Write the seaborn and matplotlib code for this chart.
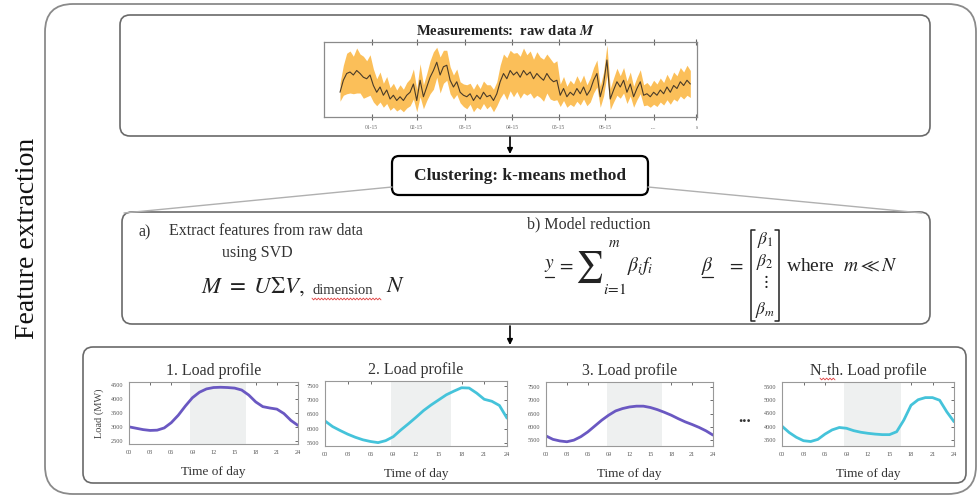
import numpy as np
import matplotlib
matplotlib.use("Agg")
import matplotlib.pyplot as plt
from matplotlib.patches import FancyBboxPatch
import seaborn as sns

# ---- data ----
hours = list(range(25))
hour_ticks = [0, 3, 6, 9, 12, 15, 18, 21, 24]
hour_labels = ["00", "03", "06", "09", "12", "15", "18", "21", "24"]
peak_window = (8.7, 16.6)

profile_1 = [3000, 2950, 2900, 2870, 2880, 2960, 3150, 3420, 3750, 4050, 4250, 4370, 4420,
             4430, 4420, 4400, 4330, 4150, 3900, 3730, 3680, 3640, 3480, 3230, 3050]
profile_2 = [6270, 6070, 5930, 5800, 5690, 5600, 5540, 5500, 5570, 5710, 5950, 6170, 6400,
             6640, 6840, 7020, 7200, 7330, 7450, 7440, 7260, 7040, 6970, 6820, 6370]
profile_3 = [5660, 5530, 5470, 5440, 5500, 5630, 5810, 6030, 6250, 6440, 6600, 6690, 6750,
             6780, 6780, 6730, 6650, 6550, 6440, 6310, 6190, 6090, 5980, 5850, 5690]
profile_n = [4020, 3780, 3600, 3470, 3440, 3520, 3720, 3880, 3970, 3940, 3850, 3790, 3750,
             3720, 3700, 3700, 3810, 4250, 4810, 5020, 5100, 5100, 5000, 4560, 4190]

profile_titles = ["1. Load profile", "2. Load profile", "3. Load profile", "N-th. Load profile"]
profile_yticks = [[2500, 3000, 3500, 4000, 4500],
                  [5500, 6000, 6500, 7000, 7500],
                  [5500, 6000, 6500, 7000, 7500],
                  [3500, 4000, 4500, 5000, 5500]]
profile_ylims = [(2380, 4620), (5380, 7690), (5280, 7690), (3270, 5690)]

# raw measurements (mean and spread, arbitrary units 0-100)
raw_mean = [33, 49, 58, 60, 56, 62, 58, 53, 51, 56,
            42, 33, 40, 29, 36, 24, 29, 22, 27, 22,
            29, 33, 44, 22, 49, 27, 40, 53, 62, 73,
            56, 67, 69, 49, 40, 47, 33, 29, 27, 31,
            22, 29, 24, 33, 27, 29, 22, 31, 47, 58,
            51, 62, 56, 60, 53, 62, 56, 60, 51, 58,
            53, 49, 58, 51, 47, 49, 29, 38, 27, 33,
            29, 38, 31, 40, 29, 36, 49, 58, 27, 44,
            76, 24, 36, 47, 40, 49, 33, 44, 27, 38,
            47, 29, 31, 27, 33, 29, 36, 31, 40, 33,
            42, 38, 47, 42, 49, 44]
raw_spread = [12, 20,
              27, 28, 25, 30, 26, 28, 24, 27,
              22, 18, 20, 16, 18, 15, 16, 14, 16, 15, 17, 18,
              20, 15, 22, 16, 18,
              22, 25, 20, 24, 22, 20, 18, 16, 17,
              14, 15, 16, 14, 15, 16, 14, 15, 16, 14, 15, 16,
              22, 26, 28, 27, 29, 26, 28, 30, 27, 28, 26, 29, 27, 28, 26, 27, 25, 26,
              15, 16, 14, 16, 15, 17, 15, 16, 14, 16, 17, 18, 14, 16,
              20,
              14, 16, 18, 15, 17, 15, 16, 14, 15,
              16, 14, 15, 14, 16, 15, 16, 15, 17, 16, 18, 17, 19, 18, 20, 18]
raw_tick_pos = [9.5, 23, 37.5, 51.5, 65.5, 79.5, 94, 106.8]
raw_tick_labels = ["01-15", "02-15", "03-15", "04-15", "05-15", "06-15", "....", "s"]

W, H = 980, 499
PURPLE = "#6a58c2"
CYAN = "#45c3da"
INK = "#222222"

sns.set_theme(style="white")
plt.rcParams["font.family"] = ["Liberation Serif", "DejaVu Serif"]
plt.rcParams["mathtext.fontset"] = "stix"

fig = plt.figure(figsize=(W / 100, H / 100), dpi=100)

# overlay in pixel coordinates for boxes and text
ov = fig.add_axes([0, 0, 1, 1], zorder=0)
ov.set_xlim(0, W)
ov.set_ylim(H, 0)
ov.axis("off")


def px_axes(x0, y0, x1, y1):
    return fig.add_axes([x0 / W, 1 - y1 / H, (x1 - x0) / W, (y1 - y0) / H], zorder=2)


def rbox(x0, y0, x1, y1, r, ec, lw):
    ov.add_patch(FancyBboxPatch((x0, y0), x1 - x0, y1 - y0,
                                boxstyle=f"round,pad=0,rounding_size={r}",
                                fc="none", ec=ec, lw=lw))


def squiggle(x0, x1, y):
    xs = np.linspace(x0, x1, int((x1 - x0) / 1.6) + 1)
    ys = y + 0.9 * np.where(np.arange(len(xs)) % 2 == 0, -1, 1)
    ov.plot(xs, ys, color="#e04040", lw=0.6)


def arrow(x, y0, y1):
    ov.annotate("", xy=(x, y1), xytext=(x, y0),
                arrowprops=dict(arrowstyle="-|>", color="black", lw=1.2,
                                mutation_scale=8, shrinkA=0, shrinkB=0))


def txt(x, y, s, size, ha="left", **kw):
    kw.setdefault("color", INK)
    ov.text(x, y, s, ha=ha, va="center", fontsize=size, **kw)


# frames
rbox(45, 4, 976, 494, 28, "#8a8a8a", 1.3)
rbox(120, 15, 930, 136, 10, "#6a6a6a", 1.2)
rbox(122, 212, 930, 324, 10, "#6a6a6a", 1.2)
rbox(83, 347, 966, 483, 10, "#6a6a6a", 1.2)
rbox(392, 156, 648, 195, 7, "black", 1.6)

ov.plot([392, 124], [187, 213], color="#b0b0b0", lw=1)
ov.plot([648, 922], [187, 213], color="#b0b0b0", lw=1)
arrow(510, 137, 154)
arrow(510, 326, 345)

txt(27, 238, "Feature extraction", 20, ha="center", rotation=90, color="#111111")
txt(505, 31, r"Measurements:  raw data $\boldsymbol{M}$", 10.5, ha="center", fontweight="bold")
txt(520, 176, "Clustering: k-means method", 12.5, ha="center", fontweight="bold")

# a) SVD block
txt(138, 232, "a)", 11.5, color="#333333")
txt(169, 231, "Extract features from raw data", 11.5, color="#333333")
txt(257, 253, "using SVD", 11.5, ha="center", color="#333333")
txt(201, 287, r"$M\ =\ U\Sigma V,$", 16.5)
txt(312, 291, "dimension", 10.5, color="#333333")
squiggle(312, 381, 299)
txt(386, 287, r"$N$", 16.5)

# b) model reduction block
txt(527, 224, "b) Model reduction", 11.5, color="#333333")
txt(549, 266, r"$y$", 14, ha="center")
ov.plot([545, 554], [277, 277], color=INK, lw=0.9)
txt(557, 266, r"$=$", 14)
txt(589, 267, r"$\sum$", 22, ha="center")
txt(614, 243, r"$m$", 10.5, ha="center")
txt(615, 289, r"$i\!=\!1$", 11, ha="center")
txt(627, 266, r"$\beta_i f_i$", 14)
txt(707, 266, r"$\beta$", 14, ha="center")
ov.plot([702, 713], [277, 277], color=INK, lw=0.9)
txt(727, 266, r"$=$", 14)
ov.plot([755, 751, 751, 755], [230, 230, 321, 321], color=INK, lw=1.1)
ov.plot([775, 779, 779, 775], [230, 230, 321, 321], color=INK, lw=1.1)
for lab, yy in zip([r"$\beta_1$", r"$\beta_2$", r"$\vdots$", r"$\beta_m$"], [240, 262, 282, 310]):
    txt(765, yy, lab, 12.5, ha="center")
txt(786, 266, r"where  $m \ll N$", 14)

# ---- raw data chart ----
ax = px_axes(324, 42, 697, 117)
x_raw = np.arange(len(raw_mean))
lo = [m - s for m, s in zip(raw_mean, raw_spread)]
hi = [m + s for m, s in zip(raw_mean, raw_spread)]
ax.fill_between(x_raw, lo, hi, color="#fbb43c", alpha=0.85, lw=0)
sns.lineplot(x=x_raw, y=raw_mean, ax=ax, color="#4a3b28", lw=0.8)
ax.set_xlim(-4.8, 107)
ax.set_ylim(0, 100)
ax.set_yticks([])
ax.set_xticks(raw_tick_pos, raw_tick_labels)
ax.tick_params(axis="x", labelsize=4, colors="#666666", direction="inout",
               length=4, width=0.8, top=True, bottom=True, pad=4)
for sp in ax.spines.values():
    sp.set_color("#8a8a8a")
    sp.set_linewidth(0.9)

# ---- load profile charts ----
rects = [(129, 382, 298, 444), (325, 381, 507, 446), (546, 382, 713, 446), (782, 382, 954, 446)]
profiles = [profile_1, profile_2, profile_3, profile_n]
colors = [PURPLE, CYAN, PURPLE, CYAN]
for i, (rect, prof) in enumerate(zip(rects, profiles)):
    a = px_axes(*rect)
    a.axvspan(*peak_window, color="#eef0f0", lw=0)
    sns.lineplot(x=hours, y=prof, ax=a, color=colors[i], lw=2.0)
    a.set_xlim(0, 24)
    a.set_ylim(*profile_ylims[i])
    a.set_xticks(hour_ticks, hour_labels)
    a.set_yticks(profile_yticks[i])
    a.tick_params(labelsize=4.5, colors="#555555", direction="in", length=2.5,
                  width=0.6, top=True, right=True, pad=4)
    for sp in a.spines.values():
        sp.set_color("#999999")
        sp.set_linewidth(0.8)
    a.set_title(profile_titles[i], fontsize=11.5, color="#333333", pad=5)
    a.set_xlabel("Time of day", fontsize=9.5, color="#333333", labelpad=8)
    if i == 0:
        a.set_ylabel("Load (MW)", fontsize=7.5, color="#444444", labelpad=5)

squiggle(820, 835, 379)
txt(745, 418, "...", 12, ha="center", fontweight="bold", color="#333333")

fig.savefig("out.png", dpi=100)
